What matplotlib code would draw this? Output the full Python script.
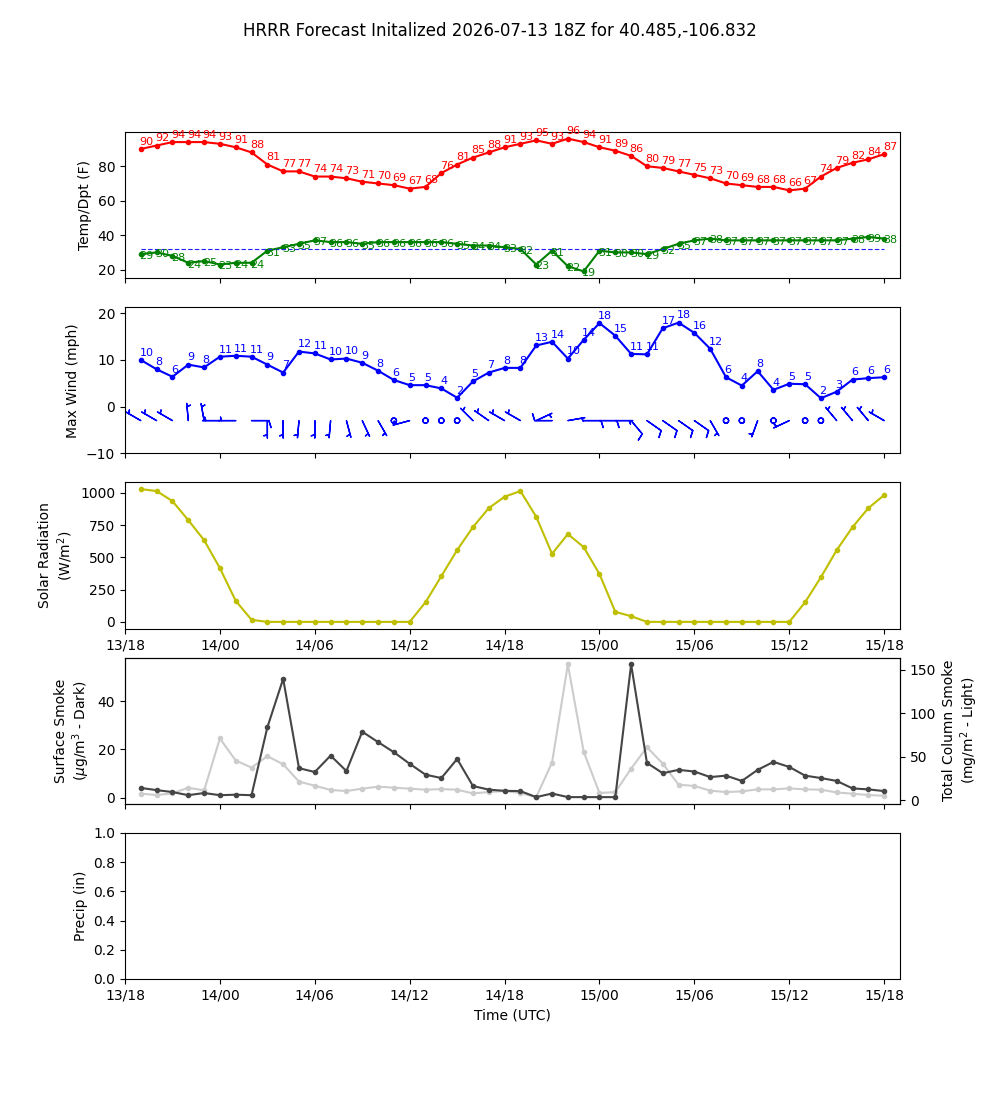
import numpy as np
import pandas as pd
import matplotlib
matplotlib.use("Agg")
import matplotlib.pyplot as plt
import matplotlib.dates as mdates

# hourly forecast times (UTC)
times = pd.date_range("2026-07-13 19:00", periods=48, freq="h")

temp_f = [90, 92, 94, 94, 94, 93, 91, 88, 81, 77, 77, 74, 74, 73, 71, 70,
          69, 67, 68, 76, 81, 85, 88, 91, 93, 95, 93, 96, 94, 91, 89, 86,
          80, 79, 77, 75, 73, 70, 69, 68, 68, 66, 67, 74, 79, 82, 84, 87]
dewpt_f = [29, 30, 28, 24, 25, 23, 24, 24, 31, 33, 35, 37, 36, 36, 35, 36,
           36, 36, 36, 36, 35, 34, 34, 33, 32, 23, 31, 22, 19, 31, 30, 30,
           29, 32, 35, 37, 38, 37, 37, 37, 37, 37, 37, 37, 37, 38, 39, 38]
freezing_f = 32

max_wind_mph = [10.0, 8.0, 6.4, 9.0, 8.4, 10.7, 10.9, 10.7, 9.0, 7.3, 11.8, 11.4,
                10.1, 10.3, 9.4, 7.7, 5.7, 4.6, 4.6, 3.9, 1.9, 5.4, 7.3, 8.3,
                8.3, 13.1, 13.9, 10.3, 14.3, 17.9, 15.2, 11.3, 11.2, 16.8, 18.0, 15.8,
                12.4, 6.3, 4.5, 7.6, 3.6, 4.9, 4.8, 1.8, 3.2, 5.8, 6.1, 6.3]
# 10 m wind for the barbs: direction wind comes from (deg) and speed (kt)
barb_dir = [300, 300, 300, 355, 350, 270, 270, 90, 180, 180, 185, 180,
            185, 165, 155, 150, 0, 255, 0, 0, 0, 315, 305, 300,
            300, 65, 270, 80, 90, 90, 90, 140, 125, 125, 125, 125,
            150, 0, 0, 200, 0, 245, 0, 0, 320, 320, 320, 300]
barb_kt = [6, 6, 6, 6, 6, 6, 6, 11, 6, 6, 6, 6,
           6, 6, 6, 6, 0, 6, 0, 0, 0, 6, 6, 6,
           6, 6, 11, 6, 11, 11, 6, 11, 11, 11, 11, 11,
           6, 0, 0, 6, 0, 6, 0, 0, 6, 6, 6, 6]

solar_wm2 = [1028, 1013, 935, 788, 633, 416, 163, 16, 0, 0, 0, 0,
             0, 0, 0, 0, 0, 0, 152, 354, 556, 734, 881, 969,
             1013, 814, 527, 680, 579, 370, 78, 44, 0, 0, 0, 0,
             0, 0, 0, 0, 0, 0, 152, 346, 556, 734, 881, 982]

sfc_smoke = [4.0, 3.1, 2.3, 1.0, 1.9, 1.0, 1.2, 1.0, 29.1, 49.2, 12.2, 10.6,
             17.4, 11.0, 27.3, 23.0, 18.8, 14.0, 9.5, 8.1, 16.0, 4.8, 3.3, 2.8,
             2.7, 0.2, 1.7, 0.2, 0.2, 0.2, 0.2, 55.2, 14.4, 10.1, 11.5, 10.8,
             8.5, 9.1, 6.9, 11.5, 14.8, 12.7, 9.1, 8.1, 6.9, 3.8, 3.4, 2.7]
col_smoke = [7.6, 6.1, 8.0, 14.5, 11.4, 71.0, 45.7, 37.6, 50.7, 41.4, 21.5, 16.8,
             11.9, 10.7, 13.4, 15.7, 14.5, 13.4, 12.2, 12.9, 12.2, 8.0, 9.5, 10.7,
             8.4, 3.7, 43.4, 156.0, 55.7, 8.4, 9.5, 36.4, 61.0, 42.2, 18.0, 16.5,
             11.1, 9.5, 10.3, 12.6, 12.6, 13.7, 12.6, 12.2, 9.1, 7.6, 6.1, 5.3]

fig, axes = plt.subplots(5, 1, figsize=(10, 11), sharex=True)
ax1, ax2, ax3, ax4, ax5 = axes
fig.suptitle("HRRR Forecast Initalized 2026-07-13 18Z for 40.485,-106.832")

# temperature / dewpoint
ax1.plot(times, temp_f, "r.-")
ax1.plot(times, dewpt_f, "g.-")
ax1.plot(times, [freezing_f] * len(times), linestyle=(0, (4, 2)), color="#2020ff", lw=0.8)
for t, v in zip(times, temp_f):
    ax1.annotate(f"{v:.0f}", (t, v), textcoords="offset points", xytext=(-1, 3),
                 color="r", fontsize=8)
for t, v in zip(times, dewpt_f):
    ax1.annotate(f"{v:.0f}", (t, v), textcoords="offset points", xytext=(-1, -3.5),
                 color="g", fontsize=8)
ax1.set_ylabel("Temp/Dpt (F)")

# wind
ax2.plot(times, max_wind_mph, "b.-")
for t, v in zip(times, max_wind_mph):
    ax2.annotate(f"{v:.0f}", (t, v), textcoords="offset points", xytext=(-1, 3),
                 color="b", fontsize=8)
rad = np.deg2rad(barb_dir)
u = -np.array(barb_kt) * np.sin(rad)
v = -np.array(barb_kt) * np.cos(rad)
ax2.barbs(mdates.date2num(times), np.full(len(times), -3.0), u, v,
          color="b", length=5, rounding=False)
ax2.set_ylim(-10, 21.3)
ax2.set_ylabel("Max Wind (mph)")

# solar
ax3.plot(times, solar_wm2, "y.-")
ax3.set_ylabel("Solar Radiation\n(W/m$^2$)")
ax3.tick_params(labelbottom=True)

# smoke
ax4.plot(times, sfc_smoke, ".-", color="0.27", zorder=3)
ax4.set_ylabel("Surface Smoke\n($\\mu$g/m$^3$ - Dark)")
ax4b = ax4.twinx()
ax4b.plot(times, col_smoke, ".-", color="0.8")
ax4b.set_ylabel("Total Column Smoke\n(mg/m$^2$ - Light)")
ax4.set_zorder(ax4b.get_zorder() + 1)
ax4.patch.set_visible(False)

# precip (no data)
ax5.set_ylabel("Precip (in)")
ax5.set_xlabel("Time (UTC)")

ax5.set_xlim(times[0] - pd.Timedelta(hours=1), times[-1] + pd.Timedelta(hours=1))
ax5.xaxis.set_major_locator(mdates.HourLocator(byhour=[0, 6, 12, 18]))
ax5.xaxis.set_major_formatter(mdates.DateFormatter("%d/%H"))

fig.savefig("out.png", dpi=100)
